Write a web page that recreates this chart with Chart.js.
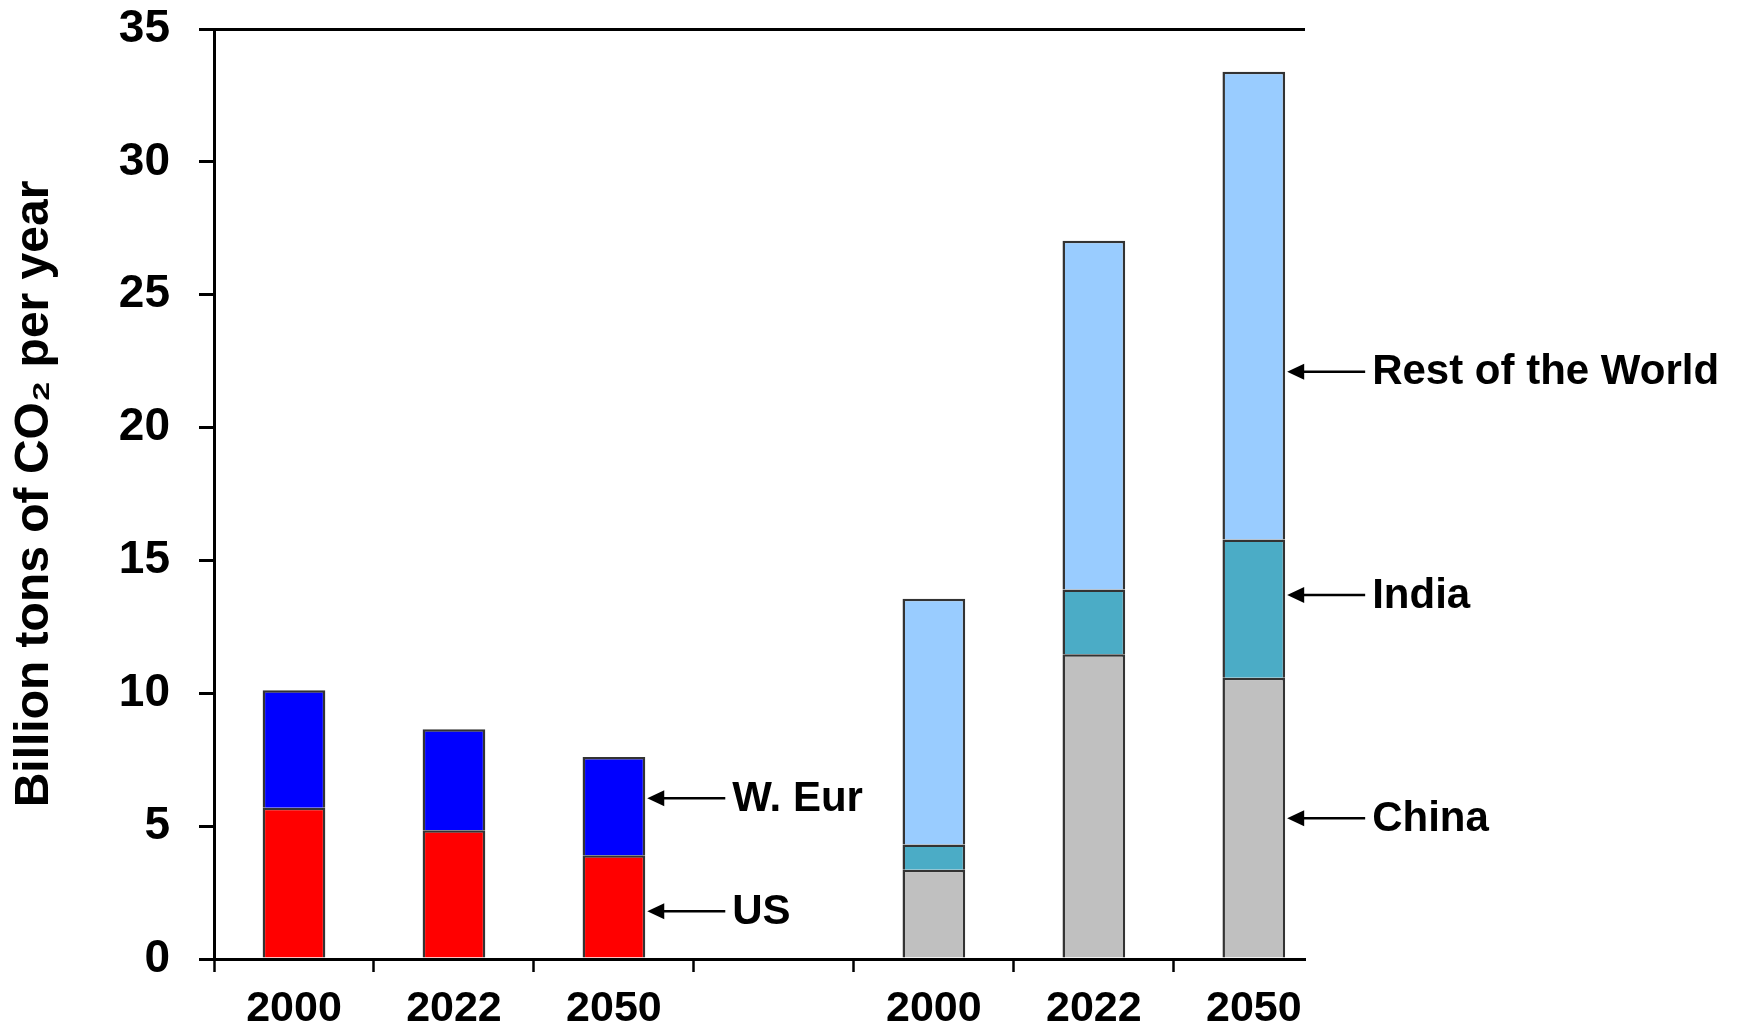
<!DOCTYPE html>
<html>
<head>
<meta charset="utf-8">
<title>CO2 emissions</title>
<script src="https://cdn.jsdelivr.net/npm/chart.js@4.4.1/dist/chart.umd.min.js"></script>
<style>
    body { margin: 0; background: #ffffff; }
    canvas { display: block; }
</style>
</head>
<body>
<canvas id="chartCanvas" width="1737" height="1031"></canvas>
<script>
// slots on the x axis, the 4th one is the gap between the two groups
const years = ['2000', '2022', '2050', '', '2000', '2022', '2050'];

// billion tons of CO2 per year, null = no bar in that slot
const usValues = [5.69, 4.85, 3.90, null, null, null, null];
const wEurValues = [4.42, 3.80, 3.70, null, null, null, null];
const chinaValues = [null, null, null, null, 3.36, 11.47, 10.58];
const indiaValues = [null, null, null, null, 0.95, 2.44, 5.21];
const restValues = [null, null, null, null, 9.25, 13.12, 17.60];

const yTicks = [0, 5, 10, 15, 20, 25, 30, 35];

// arrow labels on the right of the last bar of each group
const noteLabels = ['W. Eur', 'US', 'Rest of the World', 'India', 'China'];
const noteSlots = [2, 2, 6, 6, 6];
const noteValues = [6.05, 1.8, 22.1, 13.7, 5.3];

const fontFamily = '"Liberation Sans", Arial, sans-serif';

function toPoints(values) {
    let points = [];
    values.forEach((v, i) => {
        if (v !== null) points.push({x: i + 0.5, y: v});
    });
    return points;
}

function makeSet(label, values, color) {
    return {
        label: label,
        data: toPoints(values),
        backgroundColor: color,
        borderColor: '#333333',
        borderWidth: 2.5,
        barPercentage: 0.784,
        categoryPercentage: 1,
        stack: 'all'
    };
}

// arrows + labels next to the bars
const notesPlugin = {
    id: 'notes',
    afterDatasetsDraw(chart) {
        const ctx = chart.ctx;
        const xScale = chart.scales.x;
        const yScale = chart.scales.y;
        const barWidth = chart.getDatasetMeta(0).data[0].width;
        ctx.save();
        ctx.strokeStyle = '#000000';
        ctx.fillStyle = '#000000';
        ctx.lineWidth = 2.5;
        ctx.font = 'bold 42px ' + fontFamily;
        ctx.textBaseline = 'middle';
        ctx.textAlign = 'left';
        for (let i = 0; i < noteLabels.length; i++) {
            const tip = xScale.getPixelForValue(noteSlots[i] + 0.5) + barWidth / 2 + 2;
            const y = yScale.getPixelForValue(noteValues[i]);
            const end = tip + 78;
            ctx.beginPath();
            ctx.moveTo(tip + 12, y);
            ctx.lineTo(end, y);
            ctx.stroke();
            ctx.beginPath();
            ctx.moveTo(tip, y);
            ctx.lineTo(tip + 17, y - 8);
            ctx.lineTo(tip + 17, y + 8);
            ctx.closePath();
            ctx.fill();
            ctx.fillText(noteLabels[i], end + 7, y + 1);
        }
        ctx.restore();
    }
};

Chart.defaults.font.family = fontFamily;
Chart.defaults.color = '#000000';

new Chart(document.getElementById('chartCanvas'), {
    type: 'bar',
    data: {
        datasets: [
            makeSet('US', usValues, '#ff0000'),
            makeSet('W. Eur', wEurValues, '#0000ff'),
            makeSet('China', chinaValues, '#c0c0c0'),
            makeSet('India', indiaValues, '#4bacc6'),
            makeSet('Rest of the World', restValues, '#99ccff')
        ]
    },
    options: {
        responsive: false,
        animation: false,
        devicePixelRatio: 1,
        layout: {
            padding: {left: 0, top: 29, right: 432, bottom: 0}
        },
        plugins: {
            legend: {display: false},
            tooltip: {enabled: false}
        },
        scales: {
            x: {
                type: 'linear',
                stacked: true,
                offset: false,
                min: 0,
                max: 6.82,
                afterBuildTicks: (scale) => {
                    let ticks = [];
                    for (let i = 0; i < years.length; i++) {
                        ticks.push({value: i});
                        ticks.push({value: i + 0.5});
                    }
                    scale.ticks = ticks;
                },
                afterFit: (scale) => {
                    scale.height = 72;
                },
                grid: {
                    drawOnChartArea: false,
                    offset: false,
                    tickLength: 13,
                    tickWidth: 2.5,
                    tickColor: (c) => (c.tick && c.tick.value % 1 === 0) ? '#000000' : 'rgba(0,0,0,0)'
                },
                border: {color: '#000000', width: 3},
                ticks: {
                    autoSkip: false,
                    maxRotation: 0,
                    padding: 16,
                    font: {size: 43, weight: 'bold', lineHeight: 1},
                    callback: (value) => (value % 1 === 0.5) ? years[Math.floor(value)] : ''
                }
            },
            y: {
                stacked: true,
                min: 0,
                max: 35,
                afterBuildTicks: (scale) => {
                    scale.ticks = yTicks.map((v) => ({value: v}));
                },
                afterFit: (scale) => {
                    scale.width = 214;
                    // the label padding should not push the plot down
                    scale.paddingTop = 0;
                    scale.paddingBottom = 0;
                },
                grid: {
                    lineWidth: 3,
                    color: (c) => (c.tick && c.tick.value === 35) ? '#000000' : 'rgba(0,0,0,0)',
                    tickLength: 15,
                    tickWidth: 3,
                    tickColor: '#000000'
                },
                border: {color: '#000000', width: 3},
                ticks: {
                    padding: 29,
                    font: {size: 46, weight: 'bold'}
                },
                title: {
                    display: true,
                    text: 'Billion tons of CO\u2082 per year',
                    font: {size: 48, weight: 'bold'},
                    padding: {top: 6, bottom: 0}
                }
            }
        }
    },
    plugins: [notesPlugin]
});
</script>
</body>
</html>
